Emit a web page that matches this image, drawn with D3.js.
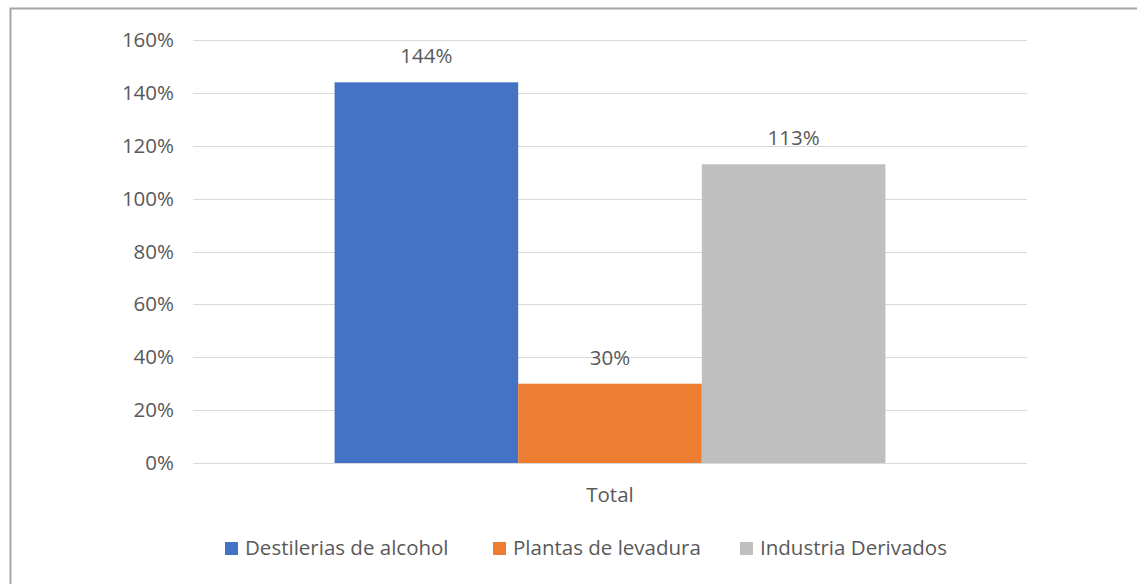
<!DOCTYPE html>
<html>
<head>
<meta charset="utf-8">
<script src="https://cdn.jsdelivr.net/npm/d3@7"></script>
<style>
  html, body { margin: 0; padding: 0; background: #fff; }
  svg { display: block; font-family: "Open Sans", "Noto Sans", sans-serif; }
</style>
</head>
<body>
<svg id="chart" width="1137" height="584"></svg>
<script>
// Data
const categories = ["Total"];
const seriesNames = ["Destilerias de alcohol", "Plantas de levadura", "Industria Derivados"];
const seriesValues = [144, 30, 113];
const seriesColors = ["#4472C4", "#ED7D31", "#BFBFBF"];
const yTicks = [0, 20, 40, 60, 80, 100, 120, 140, 160];

const svg = d3.select("#chart");
const fontSize = 20.5;
const textColor = "#595959";

// Chart frame (cut by the page edge on the right and bottom)
svg.append("rect")
  .attr("x", 10.5).attr("y", 8.5)
  .attr("width", 1200).attr("height", 700)
  .attr("fill", "none").attr("stroke", "#A6A6A6").attr("stroke-width", 2);

const plot = { left: 193, right: 1027, top: 40, bottom: 463 };

const y = d3.scaleLinear().domain([0, 160]).range([plot.bottom, plot.top]);
const x0 = d3.scaleBand().domain(categories).range([plot.left, plot.right]).paddingInner(0).paddingOuter(0.257);
const x1 = d3.scaleBand().domain(seriesNames).range([0, x0.bandwidth()]).padding(0);

// Gridlines
svg.append("g")
  .selectAll("line")
  .data(yTicks)
  .join("line")
  .attr("x1", plot.left).attr("x2", plot.right)
  .attr("y1", d => Math.round(y(d)) + 0.5).attr("y2", d => Math.round(y(d)) + 0.5)
  .attr("stroke", "#D9D9D9").attr("stroke-width", 1);

// Y axis labels
const yAxis = d3.axisLeft(y).tickValues(yTicks).tickFormat(d => d + "%").tickSize(0).tickPadding(19);
const gy = svg.append("g").attr("transform", `translate(${plot.left},0)`).call(yAxis);
gy.select(".domain").remove();
gy.selectAll("text").attr("fill", textColor).attr("font-size", fontSize).attr("font-family", "Open Sans, sans-serif");

// Bars
const groups = svg.append("g")
  .selectAll("g")
  .data(categories)
  .join("g")
  .attr("transform", d => `translate(${x0(d)},0)`);

const barData = seriesNames.map((name, i) => ({ name, value: seriesValues[i], color: seriesColors[i] }));

groups.selectAll("rect")
  .data(barData)
  .join("rect")
  .attr("x", d => x1(d.name))
  .attr("y", d => y(d.value))
  .attr("width", x1.bandwidth())
  .attr("height", d => y(0) - y(d.value))
  .attr("fill", d => d.color);

// Value labels
groups.selectAll("text.val")
  .data(barData)
  .join("text")
  .attr("class", "val")
  .attr("x", d => x1(d.name) + x1.bandwidth() / 2)
  .attr("y", d => y(d.value) - 19)
  .attr("text-anchor", "middle")
  .attr("fill", textColor)
  .attr("font-size", fontSize)
  .text(d => d.value + "%");

// Category axis label
const xAxis = d3.axisBottom(x0).tickSize(0).tickPadding(24);
const gx = svg.append("g").attr("transform", `translate(0,${plot.bottom})`).call(xAxis);
gx.select(".domain").remove();
gx.selectAll("text").attr("fill", textColor).attr("font-size", fontSize).attr("font-family", "Open Sans, sans-serif");

// Legend
const legendBaseline = 555;
const legendX = [225, 493, 740];
const legend = svg.append("g")
  .selectAll("g")
  .data(barData)
  .join("g")
  .attr("transform", (d, i) => `translate(${legendX[i]},${legendBaseline})`);

legend.append("rect")
  .attr("x", 0).attr("y", -13).attr("width", 13).attr("height", 13)
  .attr("fill", d => d.color);

legend.append("text")
  .attr("x", 20).attr("y", 0)
  .attr("fill", textColor)
  .attr("font-size", fontSize)
  .text(d => d.name);
</script>
</body>
</html>
